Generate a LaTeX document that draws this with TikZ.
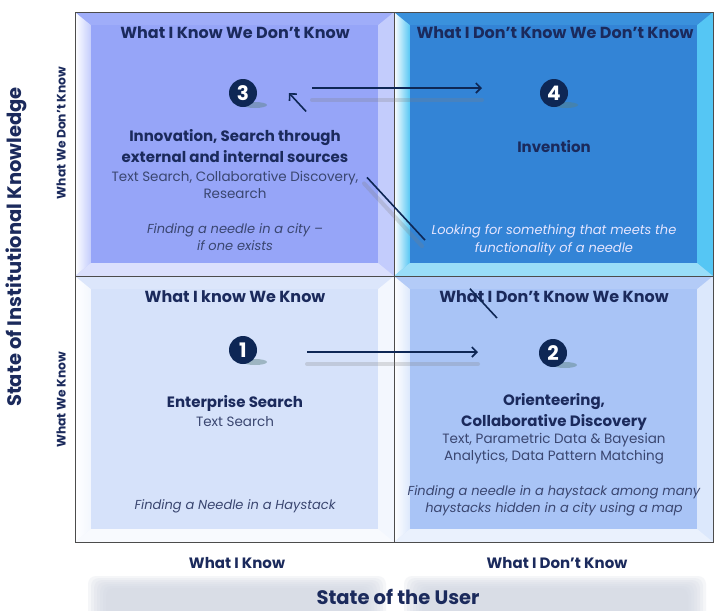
\documentclass[tikz,border=0pt]{standalone}
\usepackage{fontspec}
\setmainfont{Poppins}
\usetikzlibrary{calc,positioning,arrows.meta}

\definecolor{navy}{HTML}{1B2A5C}
\definecolor{ink}{HTML}{3A4670}
\definecolor{dot}{HTML}{0E2755}
\definecolor{faceA}{HTML}{96A5F8}
\definecolor{faceB}{HTML}{3384D6}
\definecolor{faceC}{HTML}{D6E2FA}
\definecolor{faceD}{HTML}{A9C4F6}
\definecolor{edgeA}{HTML}{C3CCFC}
\definecolor{edgeB}{HTML}{55C6F4}
\definecolor{edgeC}{HTML}{F3F7FE}
\definecolor{edgeD}{HTML}{DCE8FC}
\definecolor{band}{HTML}{D3D8E3}

% bevelled tile: x0 y0 x1 y1 face edge
\newcommand{\bevtile}[6]{%
  \fill[#6] (#1,#2) rectangle (#3,#4);
  \shade[left color=white,right color=#6] (#1,#2) -- ({#1+16},{#2+13}) -- ({#1+16},{#4-13}) -- (#1,#4) -- cycle;
  \fill[#5!80!#6] (#1,#2) -- ({#1+16},{#2+13}) -- ({#3-16},{#2+13}) -- (#3,#2) -- cycle;
  \fill[#6!60!white] (#1,#4) -- ({#1+16},{#4-13}) -- ({#3-16},{#4-13}) -- (#3,#4) -- cycle;
  \fill[#5] ({#1+16},{#2+13}) rectangle ({#3-16},{#4-13});
}

\begin{document}
\begin{tikzpicture}[
x=1pt,y=-1pt,
title/.style={
	text=navy,
	font=\fontsize{16}{18}\selectfont\bfseries
},
head/.style={
	text=navy,
	align=center,
	font=\fontsize{15}{21}\selectfont\bfseries
},
detail/.style={
	text=ink,
	align=center,
	font=\fontsize{13.5}{17}\selectfont
},
note/.style={
	text=ink,
	align=center,
	font=\fontsize{13}{17.5}\selectfont\itshape
},
num/.style={
	circle,
	fill=dot,
	text=white,
	minimum size=28pt,
	inner sep=0pt,
	font=\fontsize{20}{20}\selectfont\bfseries
},
flow/.style={
	-{Straight Barb[length=5pt,width=10pt]},
	draw=dot,
	line width=1.6pt
},
glow/.style={
	draw=gray,
	opacity=0.25,
	line width=4pt,
	line cap=round
},
axis/.style={
	text=navy,
	font=\fontsize{19.5}{22}\selectfont\bfseries
},
side/.style={
	text=navy,
	font=\fontsize{12.3}{14}\selectfont\bfseries
},
foot/.style={
	text=navy,
	font=\fontsize{15}{17}\selectfont\bfseries
}
]
\useasboundingbox[fill=white] (0,0) rectangle (716,611);

% tiles
\bevtile{75}{12}{394}{276}{faceA}{edgeA}
\bevtile{394}{12}{713}{276}{faceB}{edgeB}
\bevtile{75}{276}{394}{542}{faceC}{edgeC}
\bevtile{394}{276}{713}{542}{faceD}{edgeD}
\draw[gray!60!black,line width=0.8pt] (75,12) rectangle (713,542);
\draw[gray!60!black,line width=0.8pt] (394,12) -- (394,542) (75,276) -- (713,276);

% bottom bands
\foreach \k in {0,...,6}{
\fill[band,opacity=0.22,rounded corners=8pt] ({88+3*\k},{576+2*\k}) rectangle ({386-3*\k},620);
\fill[band,opacity=0.22,rounded corners=8pt] ({404+3*\k},{576+2*\k}) rectangle ({706-3*\k},620);
}

% shadows of the numbers
\foreach \x/\y in {243/93,554/93,243/350,553/353}
\fill[gray!70!teal,opacity=0.45] ({\x+12},{\y+12}) ellipse (12pt and 3pt);

% quadrant 3
\node[title] (t3) at (235,33) {What I Know We Don't Know};
\node[num] (n3) at (243,93) {3};
\node[head] (h3) at (235,146) {Innovation, Search through\\external and internal sources};
\node[detail] (d3) at (235,185) {Text Search, Collaborative Discovery,\\Research};
\node[note] (i3) at (235,237) {Finding a needle in a city –\\if one exists};

% quadrant 4
\node[title] (t4) at (555,33) {What I Don't Know We Don't Know};
\node[num] (n4) at (554,93) {4};
\node[head] (h4) at (554,147) {Invention};
\node[note,text=white!90!blue] (i4) at (554,240) {Looking for something that meets the\\functionality of a needle};

% quadrant 1
\node[title] (t1) at (235,297) {What I know We Know};
\node[num] (n1) at (243,350) {1};
\node[head] (h1) at (235,403) {Enterprise Search};
\node[detail] (d1) at (235,422) {Text Search};
\node[note] (i1) at (235,506) {Finding a Needle in a Haystack};

% quadrant 2
\node[title] (t2) at (554,297) {What I Don't Know We Know};
\node[num] (n2) at (553,353) {2};
\node[head] (h2) at (554,412) {Orienteering,\\Collaborative Discovery};
\node[detail] (d2) at (554,449) {Text, Parametric Data \& Bayesian\\Analytics, Data Pattern Matching};
\node[note] (i2) at (554,501) {Finding a needle in a haystack among many\\haystacks hidden in a city using a map};

% axes
\node[axis,rotate=90] (ky) at (16,247) {State of Institutional Knowledge};
\node[side,rotate=90] (kdk) at (61,133) {What We Don't Know};
\node[side,rotate=90] (kwk) at (61,400) {What We Know};
\node[foot] (uk) at (237,563) {What I Know};
\node[foot] (udk) at (557,563) {What I Don't Know};
\node[axis] (ux) at (398,597) {State of the User};

% arrows
\coordinate (s12) at (307,352);
\coordinate (e12) at (478,352);
\coordinate (s34) at (312,88);
\coordinate (e34) at (482,88);
\coordinate (s23) at (497,318);
\coordinate (e23) at (289,93);

\draw[glow] ([yshift=-12pt]s12) -- ([yshift=-12pt]e12);
\draw[glow] ([yshift=-12pt]s34) -- ([yshift=-12pt]e34);
\draw[glow] ([shift={(-3pt,-6pt)}]$(s23)!0.346!(e23)$) -- ([shift={(-3pt,-6pt)}]$(s23)!0.625!(e23)$);
\draw[flow] (s12) -- (e12);
\draw[flow] (s34) -- (e34);
\draw[flow,-] ($(s23)!0!(e23)$) -- ($(s23)!0.13!(e23)$);
\draw[flow,-] ($(s23)!0.346!(e23)$) -- ($(s23)!0.625!(e23)$);
\draw[flow] ($(s23)!0.918!(e23)$) -- (e23);
\end{tikzpicture}
\end{document}
